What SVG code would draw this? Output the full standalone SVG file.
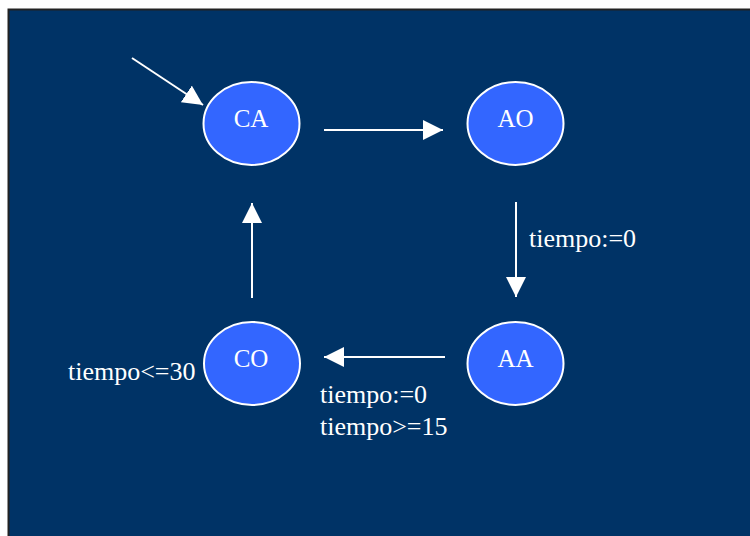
<svg xmlns="http://www.w3.org/2000/svg" width="750" height="536" viewBox="0 0 750 536">
  <style>
    .state ellipse { fill: #3366FF; stroke: #FFFFFF; stroke-width: 2; }
    .state text, .lbl { fill: #FFFFFF; font-family: "Liberation Serif", "Times New Roman", serif; }
    .state text { text-anchor: middle; font-size: 25px; }
    .lbl { font-size: 26px; }
    .edge { stroke: #FFFFFF; stroke-width: 2; fill: none; marker-end: url(#head); }
  </style>
  <defs>
    <marker id="head" viewBox="0 0 20 20" refX="20" refY="10" markerWidth="20" markerHeight="20" markerUnits="userSpaceOnUse" orient="auto">
      <path d="M0,0 L20,10 L0,20 Z" fill="#FFFFFF"/>
    </marker>
  </defs>

  <rect x="0" y="0" width="750" height="536" fill="#FFFFFF"/>
  <rect x="8.5" y="9.5" width="745" height="530" fill="#003366" stroke="#222222" stroke-width="2"/>

  <g id="connectors">
    <line class="edge" x1="132" y1="58" x2="203" y2="105"/>
    <line class="edge" x1="324" y1="130" x2="443" y2="130"/>
    <line class="edge" x1="516" y1="202" x2="516" y2="297"/>
    <line class="edge" x1="445" y1="357" x2="324" y2="357"/>
    <line class="edge" x1="252" y1="298" x2="252" y2="203"/>
    <text class="lbl" x="529" y="247">tiempo:=0</text>
    <text class="lbl" x="68" y="380">tiempo&lt;=30</text>
    <text class="lbl" x="320" y="403">tiempo:=0</text>
    <text class="lbl" x="320" y="435">tiempo&gt;=15</text>
  </g>

  <g id="CA" class="state">
    <ellipse cx="251.5" cy="123.5" rx="48" ry="41.5"/>
    <text x="251" y="127">CA</text>
  </g>
  <g id="AO" class="state">
    <ellipse cx="515.5" cy="123.5" rx="48" ry="41.5"/>
    <text x="515.5" y="127">AO</text>
  </g>
  <g id="AA" class="state">
    <ellipse cx="515.5" cy="363.5" rx="48" ry="41.5"/>
    <text x="515.5" y="367">AA</text>
  </g>
  <g id="CO" class="state">
    <ellipse cx="252" cy="363.5" rx="48" ry="41.5"/>
    <text x="251" y="367">CO</text>
  </g>
</svg>
